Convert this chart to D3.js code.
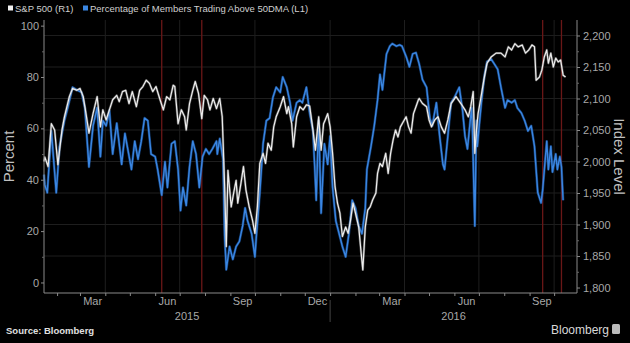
<!DOCTYPE html>
<html>
<head>
<meta charset="utf-8">
<script src="https://cdn.jsdelivr.net/npm/d3@7"></script>
<style>
body { margin: 0; background: #000; }
text { font-family: "Liberation Sans", Arial, sans-serif; }
</style>
</head>
<body>
<div id="chart"></div>
<script>
// % of members above 50DMA (left axis)
let pctDates = ["2015-01-16","2015-01-17","2015-01-20","2015-01-25","2015-01-31","2015-02-04","2015-02-10","2015-02-14","2015-02-20","2015-02-25","2015-03-03","2015-03-07","2015-03-12","2015-03-17","2015-03-22","2015-03-26","2015-03-29","2015-04-02","2015-04-06","2015-04-10","2015-04-15","2015-04-21","2015-04-25","2015-04-29","2015-05-03","2015-05-07","2015-05-11","2015-05-15","2015-05-19","2015-05-23","2015-05-27","2015-06-01","2015-06-04","2015-06-09","2015-06-13","2015-06-16","2015-06-21","2015-06-25","2015-06-29","2015-07-02","2015-07-05","2015-07-09","2015-07-13","2015-07-17","2015-07-21","2015-07-25","2015-07-29","2015-08-02","2015-08-06","2015-08-10","2015-08-15","2015-08-16","2015-08-19","2015-08-23","2015-08-25","2015-08-27","2015-08-31","2015-09-04","2015-09-08","2015-09-12","2015-09-16","2015-09-19","2015-09-22","2015-09-27","2015-10-01","2015-10-03","2015-10-07","2015-10-11","2015-10-15","2015-10-19","2015-10-23","2015-10-27","2015-11-01","2015-11-04","2015-11-09","2015-11-13","2015-11-16","2015-11-21","2015-11-25","2015-11-28","2015-12-03","2015-12-07","2015-12-11","2015-12-13","2015-12-15","2015-12-18","2015-12-21","2015-12-25","2015-12-29","2016-01-01","2016-01-04","2016-01-08","2016-01-12","2016-01-16","2016-01-20","2016-01-24","2016-01-28","2016-02-01","2016-02-05","2016-02-09","2016-02-13","2016-02-15","2016-02-20","2016-02-24","2016-02-28","2016-03-02","2016-03-05","2016-03-10","2016-03-14","2016-03-17","2016-03-22","2016-03-26","2016-03-29","2016-04-03","2016-04-07","2016-04-11","2016-04-15","2016-04-19","2016-04-23","2016-04-28","2016-05-02","2016-05-05","2016-05-10","2016-05-14","2016-05-18","2016-05-20","2016-05-24","2016-05-28","2016-06-01","2016-06-07","2016-06-11","2016-06-14","2016-06-17","2016-06-22","2016-06-23","2016-06-26","2016-06-28","2016-06-29","2016-07-04","2016-07-08","2016-07-11","2016-07-16","2016-07-20","2016-07-24","2016-07-28","2016-08-02","2016-08-05","2016-08-10","2016-08-14","2016-08-17","2016-08-22","2016-08-26","2016-08-30","2016-09-03","2016-09-07","2016-09-11","2016-09-15","2016-09-17","2016-09-22","2016-09-24","2016-09-27","2016-09-29","2016-10-03","2016-10-05","2016-10-08","2016-10-10","2016-10-12"];
let pctValues = [42,38,35,59,35,53,63,68,76,75,74,68,45,61,68,49,63,61,67,50,62,46,58,51,44,55,48,55,64,63,50,49,44,34,47,37,54,55,44,28,37,30,45,55,50,37,49,52,50,52,55,50,56,48,18,5,14,9,14,16,22,29,24,19,10,19,35,54,63,64,72,76,74,80,76,70,63,70,71,70,76,66,59,46,32,63,27,54,46,57,37,24,19,14,10,19,32,29,22,19,29,44,53,61,71,81,75,89,92,93,92,92.5,92,88,84,89,89.5,85,79,76,64,61,70,57,46,44,57,70,72,76,67,57,52,68,61,22,63,53,70,81,86,87,85,83,76,68,71,70,71,68,66,63,59,61,53,35,31,36,55,44,53,43,50,44,49,45,32];

// S&P 500 index (right axis)
let spxDates = ["2015-01-16","2015-01-17","2015-01-21","2015-01-25","2015-01-29","2015-02-02","2015-02-07","2015-02-10","2015-02-16","2015-02-20","2015-02-25","2015-03-01","2015-03-05","2015-03-09","2015-03-12","2015-03-17","2015-03-22","2015-03-26","2015-03-29","2015-04-02","2015-04-06","2015-04-10","2015-04-15","2015-04-18","2015-04-22","2015-04-26","2015-04-30","2015-05-04","2015-05-09","2015-05-13","2015-05-17","2015-05-21","2015-05-25","2015-05-29","2015-06-02","2015-06-07","2015-06-11","2015-06-15","2015-06-19","2015-06-23","2015-06-25","2015-06-29","2015-07-03","2015-07-07","2015-07-09","2015-07-13","2015-07-17","2015-07-20","2015-07-24","2015-07-28","2015-07-31","2015-08-04","2015-08-07","2015-08-11","2015-08-15","2015-08-19","2015-08-22","2015-08-25","2015-08-27","2015-08-29","2015-09-02","2015-09-05","2015-09-08","2015-09-10","2015-09-14","2015-09-17","2015-09-20","2015-09-24","2015-09-28","2015-10-01","2015-10-04","2015-10-07","2015-10-11","2015-10-14","2015-10-17","2015-10-21","2015-10-24","2015-10-27","2015-11-01","2015-11-05","2015-11-09","2015-11-11","2015-11-15","2015-11-17","2015-11-21","2015-11-25","2015-11-29","2015-12-03","2015-12-07","2015-12-11","2015-12-14","2015-12-18","2015-12-21","2015-12-24","2015-12-26","2015-12-29","2016-01-01","2016-01-04","2016-01-07","2016-01-10","2016-01-13","2016-01-16","2016-01-20","2016-01-23","2016-01-26","2016-01-29","2016-02-01","2016-02-05","2016-02-08","2016-02-10","2016-02-13","2016-02-16","2016-02-19","2016-02-22","2016-02-26","2016-02-28","2016-03-02","2016-03-05","2016-03-09","2016-03-12","2016-03-15","2016-03-18","2016-03-21","2016-03-24","2016-03-27","2016-03-30","2016-04-03","2016-04-06","2016-04-09","2016-04-12","2016-04-15","2016-04-18","2016-04-19","2016-04-23","2016-04-28","2016-05-01","2016-05-04","2016-05-08","2016-05-12","2016-05-16","2016-05-20","2016-05-24","2016-05-28","2016-06-03","2016-06-09","2016-06-14","2016-06-18","2016-06-21","2016-06-24","2016-06-26","2016-06-28","2016-06-30","2016-07-03","2016-07-07","2016-07-11","2016-07-16","2016-07-22","2016-07-28","2016-08-02","2016-08-06","2016-08-10","2016-08-14","2016-08-18","2016-08-23","2016-08-27","2016-08-31","2016-09-04","2016-09-07","2016-09-09","2016-09-13","2016-09-16","2016-09-19","2016-09-22","2016-09-24","2016-09-27","2016-09-30","2016-10-03","2016-10-06","2016-10-09","2016-10-12","2016-10-15"];
let spxValues = [2000,2007,1992,2060,2050,1995,2050,2071,2103,2116,2113,2116,2103,2071,2045,2076,2103,2055,2082,2066,2082,2098,2105,2095,2111,2113,2092,2111,2087,2113,2119,2129,2124,2111,2119,2098,2082,2103,2098,2121,2119,2060,2082,2071,2050,2092,2113,2127,2108,2068,2105,2098,2082,2100,2084,2100,2071,1960,1865,1986,1928,1950,1970,1934,1966,1992,1955,1928,1907,1886,1928,1997,2013,1997,2029,2018,2055,2071,2087,2103,2076,2087,2060,2023,2071,2087,2082,2090,2088,2050,2018,2071,2018,2060,2066,2076,2055,2013,1960,1934,1918,1881,1896,1886,1907,1934,1918,1896,1854,1828,1896,1923,1928,1939,1950,1981,1997,1992,2013,1981,2013,2034,2050,2039,2055,2062,2071,2055,2045,2076,2087,2098,2100,2092,2087,2066,2055,2066,2071,2055,2045,2066,2092,2103,2092,2082,2071,2087,2111,2013,2050,2076,2098,2129,2156,2166,2172,2172,2166,2182,2177,2187,2182,2185,2172,2177,2185,2182,2129,2134,2145,2166,2177,2156,2172,2150,2164,2158,2161,2137,2134];

// event markers (red verticals)
let eventDates = ["2015-06-09","2015-07-28","2016-09-17","2016-10-10"];

let pctTicks = [0, 20, 40, 60, 80, 100];
let pctMinor = [10, 30, 50, 70, 90];
let spxTicks = [1800, 1850, 1900, 1950, 2000, 2050, 2100, 2150, 2200];
let spxMinor = [1825, 1875, 1925, 1975, 2025, 2075, 2125, 2175];
let monthLabels = ["2015-03-01","2015-06-01","2015-09-01","2015-12-01","2016-03-01","2016-06-01","2016-09-01"];
let yearLabels = ["2015", "2016"];

let parse = d3.timeParse("%Y-%m-%d");
let width = 630, height = 343;
let plotL = 44, plotR = 577, plotT = 20, plotB = 293;

let svg = d3.select("#chart").append("svg")
    .attr("width", width)
    .attr("height", height)
    .style("background", "#000");

let x = d3.scaleTime()
    .domain([parse("2015-01-16"), parse("2016-10-29")])
    .range([plotL, plotR]);
let yL = d3.scaleLinear().domain([-4.1, 102.2]).range([plotB, plotT]);
let yR = d3.scaleLinear().domain([1791.3, 2224.6]).range([plotB, plotT]);

// grid
svg.append("g").selectAll("line")
    .data(spxTicks.filter(d => d > 1800))
    .enter().append("line")
    .attr("x1", plotL).attr("x2", plotR)
    .attr("y1", d => yR(d)).attr("y2", d => yR(d))
    .attr("stroke", "#1e1e1e").attr("stroke-width", 1);

svg.append("g").selectAll("line")
    .data(d3.timeMonth.every(3).range(x.domain()[0], x.domain()[1]))
    .enter().append("line")
    .attr("x1", d => x(d)).attr("x2", d => x(d))
    .attr("y1", plotT).attr("y2", plotB)
    .attr("stroke", "#1e1e1e").attr("stroke-width", 1);

// red event lines
svg.append("g").selectAll("line")
    .data(eventDates.map(parse))
    .enter().append("line")
    .attr("x1", d => x(d)).attr("x2", d => x(d))
    .attr("y1", plotT).attr("y2", plotB)
    .attr("stroke", "#6a1717").attr("stroke-width", 1.3);

// series
let pctData = pctDates.map((d, i) => ({ date: parse(d), value: pctValues[i] }));
let spxData = spxDates.map((d, i) => ({ date: parse(d), value: spxValues[i] }));

let pctLine = d3.line().x(d => x(d.date)).y(d => yL(d.value));
let spxLine = d3.line().x(d => x(d.date)).y(d => yR(d.value));

svg.append("path").datum(pctData)
    .attr("d", pctLine)
    .attr("fill", "none").attr("stroke", "#1f5fb0").attr("stroke-width", 2.6)
    .attr("stroke-opacity", 0.6).attr("stroke-linejoin", "round");
svg.append("path").datum(pctData)
    .attr("d", pctLine)
    .attr("fill", "none").attr("stroke", "#3a86e2").attr("stroke-width", 1.4)
    .attr("stroke-linejoin", "round");

svg.append("path").datum(spxData)
    .attr("d", spxLine)
    .attr("fill", "none").attr("stroke", "#9a9a9a").attr("stroke-width", 2.4)
    .attr("stroke-opacity", 0.5).attr("stroke-linejoin", "round");
svg.append("path").datum(spxData)
    .attr("d", spxLine)
    .attr("fill", "none").attr("stroke", "#eeeeee").attr("stroke-width", 1.2)
    .attr("stroke-linejoin", "round");

// axes
function styleAxis(g) {
    g.select(".domain").attr("stroke", "#8a8a8a");
    g.selectAll(".tick line").attr("stroke", "#8a8a8a");
    g.selectAll(".tick text").attr("fill", "#a8a8a8").style("font-size", "11px");
}

svg.append("g")
    .attr("transform", `translate(${plotL},0)`)
    .call(d3.axisLeft(yL).tickValues(pctTicks).tickSize(3).tickPadding(2).tickSizeOuter(0))
    .call(styleAxis)
    .call(g => g.select(".domain").attr("d", `M0,${plotT}V${plotB}`));
svg.append("g")
    .attr("transform", `translate(${plotL},0)`)
    .call(d3.axisLeft(yL).tickValues(pctMinor).tickSize(2).tickFormat(""))
    .call(g => g.select(".domain").remove())
    .selectAll("line").attr("stroke", "#666");

svg.append("g")
    .attr("transform", `translate(${plotR},0)`)
    .call(d3.axisRight(yR).tickValues(spxTicks).tickSize(3).tickPadding(3).tickSizeOuter(0))
    .call(styleAxis)
    .call(g => g.select(".domain").attr("d", `M0,${plotT}V${plotB}`));
svg.append("g")
    .attr("transform", `translate(${plotR},0)`)
    .call(d3.axisRight(yR).tickValues(spxMinor).tickSize(2).tickFormat(""))
    .call(g => g.select(".domain").remove())
    .selectAll("line").attr("stroke", "#666");

svg.append("g")
    .attr("transform", `translate(0,${plotB})`)
    .call(d3.axisBottom(x).ticks(d3.timeMonth.every(1)).tickSize(3).tickFormat("").tickSizeOuter(0))
    .call(styleAxis)
    .call(g => g.select(".domain").attr("d", `M${plotL},0H${plotR}`));

let monthFmt = d3.timeFormat("%b");
svg.append("g").selectAll("text")
    .data(monthLabels.map(parse))
    .enter().append("text")
    .attr("x", d => (x(d) + x(d3.timeMonth.offset(d, 1))) / 2)
    .attr("y", 305)
    .attr("text-anchor", "middle")
    .attr("fill", "#a8a8a8").style("font-size", "11px")
    .text(d => monthFmt(d));

let xMin = x.domain()[0], xMax = x.domain()[1];
svg.append("g").selectAll("text")
    .data(yearLabels)
    .enter().append("text")
    .attr("x", d => {
        let a = d3.max([parse(d + "-01-01"), xMin]);
        let b = d3.min([parse((+d + 1) + "-01-01"), xMax]);
        return (x(a) + x(b)) / 2;
    })
    .attr("y", 320)
    .attr("text-anchor", "middle")
    .attr("fill", "#a8a8a8").style("font-size", "11px")
    .text(d => d);

svg.append("line")
    .attr("x1", x(parse("2016-01-01"))).attr("x2", x(parse("2016-01-01")))
    .attr("y1", 300).attr("y2", 322)
    .attr("stroke", "#444");

// axis titles
svg.append("text")
    .attr("transform", `translate(14,${(plotT + plotB) / 2}) rotate(-90)`)
    .attr("text-anchor", "middle")
    .attr("fill", "#c0c0c0").style("font-size", "15px")
    .text("Percent");
svg.append("text")
    .attr("transform", `translate(614,${(plotT + plotB) / 2}) rotate(90)`)
    .attr("text-anchor", "middle")
    .attr("fill", "#c0c0c0").style("font-size", "15px")
    .text("Index Level");

// legend
let legend = [
    { label: "S&P 500 (R1)", color: "#f0f0f0", x: 8 },
    { label: "Percentage of Members Trading Above 50DMA (L1)", color: "#3a86e2", x: 83 }
];
let lg = svg.append("g").selectAll("g").data(legend).enter().append("g");
lg.append("rect")
    .attr("x", d => d.x).attr("y", 5.5)
    .attr("width", 5).attr("height", 5)
    .attr("fill", d => d.color);
lg.append("text")
    .attr("x", d => d.x + 7).attr("y", 12)
    .attr("fill", "#cfcfcf").style("font-size", "9.5px")
    .text(d => d.label);

// footer
svg.append("text")
    .attr("x", 6).attr("y", 334)
    .attr("fill", "#e0e0e0").style("font-size", "9.5px").style("font-weight", "bold")
    .text("Source: Bloomberg");
svg.append("text")
    .attr("x", 609).attr("y", 334)
    .attr("text-anchor", "end")
    .attr("fill", "#d8d8d8").style("font-size", "12px")
    .text("Bloomberg");
svg.append("rect")
    .attr("x", 612).attr("y", 324).attr("width", 8).attr("height", 10)
    .attr("rx", 1.5).attr("fill", "#bbbbbb");
</script>
</body>
</html>
